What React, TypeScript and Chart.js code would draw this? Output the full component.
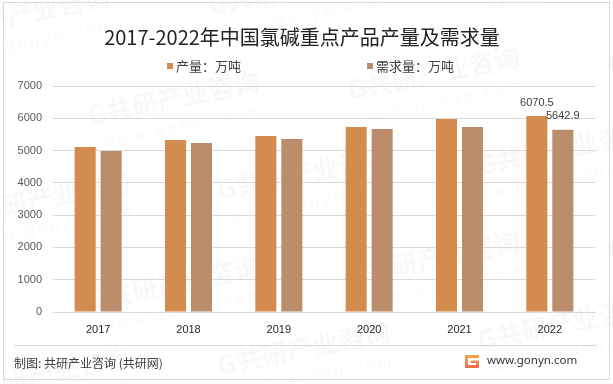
import React, { useEffect, useRef } from "react";
import { Chart, registerables } from "chart.js";

Chart.register(...registerables);

const categories = ["2017", "2018", "2019", "2020", "2021", "2022"];
const productionValues = [5110, 5330, 5450, 5730, 5980, 6070.5];
const demandValues = [4990, 5235, 5360, 5665, 5730, 5642.9];
const seriesNames = ["产量：万吨", "需求量：万吨"];
const seriesColors = ["#D38C4E", "#BC8D6B"];
const yMax = 7000;
const yStep = 1000;
const labeledIndexes = [5];
const titleText = "2017-2022年中国氯碱重点产品产量及需求量";
const sourceText = "制图: 共研产业咨询 (共研网)";
const siteText = "www.gonyn.com";
const watermarkMain = "G共研产业咨询";
const watermarkSub = "w w w . g o n y n . c o m";

const CJK = '"Noto Sans CJK SC", "Noto Sans", sans-serif';
const LATIN = '"Liberation Sans", Arial, sans-serif';

const decorPlugin = {
  id: "decor",
  beforeDraw(chart: any) {
    const ctx = chart.ctx as CanvasRenderingContext2D;
    const W = chart.width;
    const H = chart.height;
    ctx.save();
    ctx.fillStyle = "#ffffff";
    ctx.fillRect(0, 0, W, H);
    // faint watermarks
    ctx.fillStyle = "rgba(0,0,0,0.028)";
    const spots = [
      [-60, 40], [210, 15], [470, -10],
      [90, 125], [350, 100], [610, 75],
      [-40, 225], [220, 200], [480, 175],
      [90, 310], [350, 285], [610, 260],
      [-40, 400], [220, 375], [480, 350],
    ];
    for (const [sx, sy] of spots) {
      ctx.save();
      ctx.translate(sx, sy);
      ctx.rotate(-0.2);
      ctx.font = `bold 26px ${CJK}`;
      ctx.textBaseline = "alphabetic";
      ctx.fillText(watermarkMain, 0, 0);
      ctx.font = `15px ${LATIN}`;
      ctx.fillText(watermarkSub, 10, 24);
      ctx.restore();
    }
    // outer border
    ctx.strokeStyle = "#d9d9d9";
    ctx.lineWidth = 1;
    ctx.strokeRect(3.5, 2.5, 606, 377);
    ctx.restore();
  },
  afterDraw(chart: any) {
    const ctx = chart.ctx as CanvasRenderingContext2D;
    ctx.save();
    // title
    ctx.fillStyle = "#222222";
    ctx.font = `20px ${CJK}`;
    ctx.textAlign = "center";
    ctx.textBaseline = "middle";
    ctx.fillText(titleText, 302, 37);

    // legend
    const legendX = [167, 367];
    ctx.textAlign = "left";
    ctx.font = `13px ${CJK}`;
    seriesNames.forEach((name, i) => {
      ctx.fillStyle = seriesColors[i];
      ctx.fillRect(legendX[i], 63, 6, 6);
      ctx.fillStyle = "#404040";
      ctx.fillText(name, legendX[i] + 9, 66);
    });

    // data labels
    ctx.font = `11px ${LATIN}`;
    ctx.fillStyle = "#404040";
    ctx.textAlign = "center";
    chart.data.datasets.forEach((ds: any, di: number) => {
      const meta = chart.getDatasetMeta(di);
      labeledIndexes.forEach((idx) => {
        const el = meta.data[idx];
        if (!el) return;
        const v = ds.data[idx] as number;
        ctx.fillText(v.toFixed(1), el.x, el.y - 13.5);
      });
    });

    // footer separator
    ctx.strokeStyle = "#d9d9d9";
    ctx.lineWidth = 1;
    ctx.beginPath();
    ctx.moveTo(14, 345.5);
    ctx.lineTo(597, 345.5);
    ctx.stroke();

    // source
    ctx.textAlign = "left";
    ctx.fillStyle = "#404040";
    ctx.font = `12px ${CJK}`;
    ctx.fillText(sourceText, 14, 363);

    // logo
    const g = ctx.createLinearGradient(0, 355, 0, 368);
    g.addColorStop(0, "#F7A64E");
    g.addColorStop(1, "#EF6A4E");
    ctx.fillStyle = g;
    ctx.fillRect(465, 355, 14, 3);
    ctx.fillRect(465, 355, 3, 13);
    ctx.fillRect(465, 365, 14, 3);
    ctx.fillRect(476, 361, 3, 7);
    ctx.fillRect(471, 360.5, 8, 2.5);

    ctx.fillStyle = "#333333";
    ctx.font = `11.5px "Noto Sans", ${LATIN}`;
    ctx.fillText(siteText, 487, 361);
    ctx.restore();
  },
};

export default function App() {
  const canvasRef = useRef<HTMLCanvasElement | null>(null);

  useEffect(() => {
    if (!canvasRef.current) return;
    const chart = new Chart(canvasRef.current, {
      type: "bar",
      data: {
        labels: categories,
        datasets: [
          {
            label: seriesNames[0],
            data: productionValues,
            backgroundColor: seriesColors[0],
            categoryPercentage: 0.575,
            barPercentage: 0.81,
          },
          {
            label: seriesNames[1],
            data: demandValues,
            backgroundColor: seriesColors[1],
            categoryPercentage: 0.575,
            barPercentage: 0.81,
          },
        ],
      },
      options: {
        responsive: false,
        animation: false,
        layout: { padding: { top: 86, right: 18, bottom: 42, left: 0 } },
        plugins: {
          legend: { display: false },
          title: { display: false },
          tooltip: { enabled: false },
        },
        scales: {
          x: {
            grid: { display: false, drawTicks: false },
            border: { display: true, color: "#d9d9d9" },
            ticks: {
              color: "#262626",
              font: { size: 11, family: LATIN },
              padding: 11,
            },
            afterFit: (s: any) => {
              s.height = 30;
            },
          },
          y: {
            min: 0,
            max: yMax,
            ticks: {
              stepSize: yStep,
              color: "#595959",
              font: { size: 11, family: LATIN },
              padding: 11,
              callback: (v: any) => String(v),
            },
            grid: { color: "#d9d9d9", drawTicks: false },
            border: { display: false },
            afterFit: (s: any) => {
              s.width = 53;
            },
          },
        },
      },
      plugins: [decorPlugin],
    } as any);
    return () => chart.destroy();
  }, []);

  return (
    <div style={{ position: "absolute", left: 0, top: 0, width: 613, height: 384 }}>
      <canvas ref={canvasRef} width={613} height={384} style={{ width: 613, height: 384 }} />
    </div>
  );
}
